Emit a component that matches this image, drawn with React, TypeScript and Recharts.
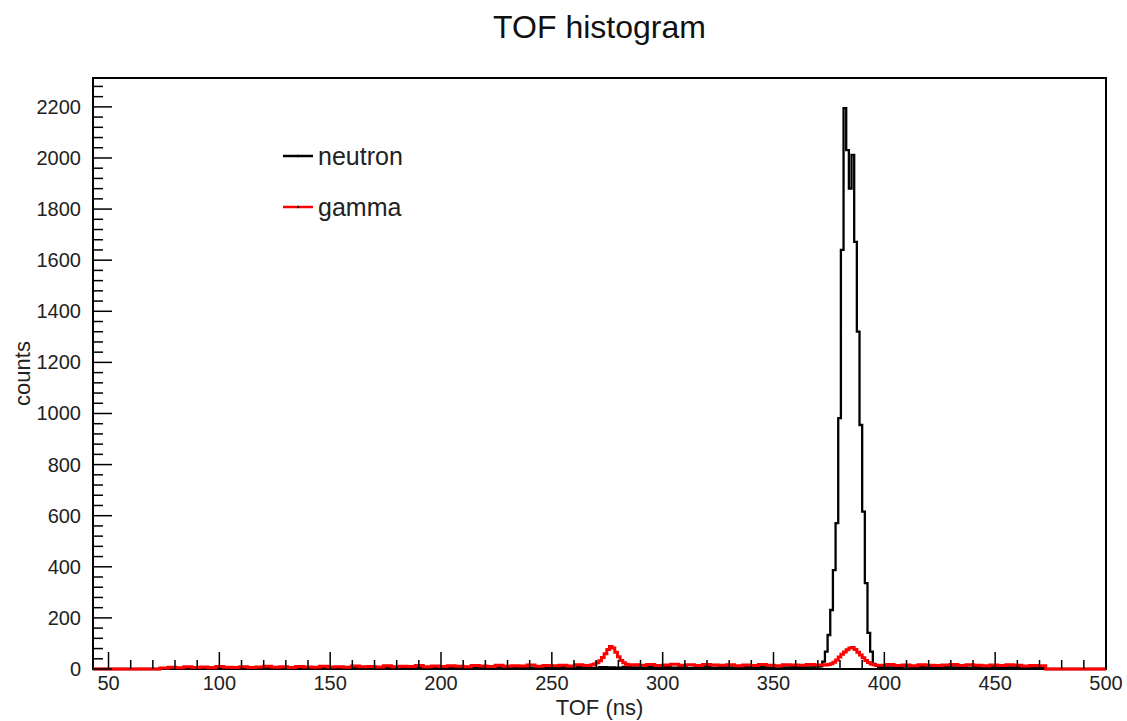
import { ComposedChart, Legend, Line, ReferenceArea, XAxis, YAxis } from "recharts";

// histogram binning: 379 bins of 1.2 ns starting at 44.4 ns
const FIRST_BIN = 44.4;
const BIN_WIDTH = 1.2;
const BIN_COUNT = 379;
const TOF_MIN = 43;
const TOF_MAX = 500;
const COUNTS_MAX = 2313;

// flat background, read in groups of 3 bins, from bin 24 (~73 ns) to ~472 ns
const BG_FIRST = 24;
const BG_GROUP = 3;

const gammaBackground = [
  4, 7, 5, 9, 6, 8, 5, 10, 7, 6,
  9, 6, 8, 11, 7, 9, 6, 10, 8, 7,
  11, 8, 9, 7, 12, 9, 10, 8, 13, 9,
  11, 10, 14, 9, 12, 10, 13, 11, 9, 14,
  12, 10, 15, 11, 13, 12, 16, 11, 14, 13,
  15, 12, 17, 14, 16, 13, 18, 15, 14, 17,
  15, 18, 14, 16, 19, 15, 17, 14, 18, 16,
  15, 17, 13, 16, 14, 18, 15, 13, 17, 16,
  15, 18, 16, 17, 20, 24, 22, 18, 16, 17,
  15, 18, 14, 16, 13, 17, 15, 14, 16, 18,
  14, 17, 15, 13, 16, 14, 17, 15, 12, 14, 13,
];

const neutronBackground = [
  3, 5, 2, 6, 4, 3, 5, 7, 4, 3,
  6, 4, 5, 3, 7, 5, 4, 6, 3, 5,
  4, 7, 5, 3, 6, 4, 8, 5, 4, 6,
  5, 3, 7, 5, 6, 4, 8, 5, 6, 4,
  7, 5, 6, 8, 4, 6, 5, 7, 5, 6,
  8, 5, 7, 6, 4, 7, 6, 5, 8, 6,
  5, 7, 6, 8, 5, 7, 4, 6, 8, 5,
  7, 6, 5, 8, 6, 7, 5, 9, 6, 7,
  8, 6, 9, 7, 8, 10, 9, 8, 7, 9,
  8, 6, 7, 9, 6, 8, 7, 5, 8, 6,
  7, 5, 8, 6, 7, 5, 6, 8, 5, 6, 4,
];

// peaks, bin by bin
const neutronPeakStart = 272;
const neutronPeak = [10, 29, 68, 133, 231, 387, 571, 982, 1640, 2195, 2031, 1880, 2012, 1672, 1320, 955, 616, 336, 141, 68, 20, 12];

const gammaPeak1Start = 186;
const gammaPeak1 = [17, 20, 24, 32, 45, 60, 76, 88, 82, 66, 48, 33, 24, 19, 16];

const gammaPeak2Start = 274;
const gammaPeak2 = [16, 18, 21, 26, 35, 47, 58, 67, 75, 82, 84, 76, 66, 55, 44, 33, 25, 20, 17, 15];

const seriesOrder = ["neutron", "gamma"];
const xLabels = [50, 100, 150, 200, 250, 300, 350, 400, 450, 500];
const yLabels = [0, 200, 400, 600, 800, 1000, 1200, 1400, 1600, 1800, 2000, 2200];

const FONT = "'Liberation Sans', Arial, Helvetica, sans-serif";

function buildCounts(background: number[], peaks: { start: number; counts: number[] }[]) {
  const out: number[] = new Array(BIN_COUNT).fill(0);
  background.forEach((c, g) => {
    for (let k = 0; k < BG_GROUP; k++) out[BG_FIRST + g * BG_GROUP + k] = c;
  });
  peaks.forEach((p) => p.counts.forEach((c, k) => (out[p.start + k] = c)));
  return out;
}

const neutronCounts = buildCounts(neutronBackground, [{ start: neutronPeakStart, counts: neutronPeak }]);
const gammaCounts = buildCounts(gammaBackground, [
  { start: gammaPeak1Start, counts: gammaPeak1 },
  { start: gammaPeak2Start, counts: gammaPeak2 },
]);

const data = [
  { tof: TOF_MIN, neutron: 0, gamma: 0 },
  ...neutronCounts.map((n, i) => ({
    tof: +(FIRST_BIN + i * BIN_WIDTH).toFixed(2),
    neutron: n,
    gamma: gammaCounts[i],
  })),
  { tof: TOF_MAX, neutron: 0, gamma: 0 },
];

// minor ticks: 5 per major step
const xTicks: number[] = [];
for (let v = xLabels[0]; v <= TOF_MAX; v += 10) xTicks.push(v);
const yTicks: number[] = [];
for (let v = 0; v < COUNTS_MAX; v += 40) yTicks.push(v);

const XTick = (props: any) => {
  const { x, y, payload } = props;
  const v = payload.value;
  const major = xLabels.includes(v);
  return (
    <g>
      <line x1={x} x2={x} y1={y} y2={y - (major ? 17 : 9)} stroke="#000" strokeWidth={1.5} />
      {major && (
        <text x={x} y={y + 21} textAnchor="middle" fontSize={20} fill="#222" fontFamily={FONT}>
          {v}
        </text>
      )}
    </g>
  );
};

const YTick = (props: any) => {
  const { x, y, payload } = props;
  const v = payload.value;
  const major = yLabels.includes(v);
  return (
    <g>
      <line x1={x} x2={x + (major ? 19 : 10)} y1={y} y2={y} stroke="#000" strokeWidth={1.5} />
      {major && (
        <text x={x - 12} y={y + 7} textAnchor="end" fontSize={20} fill="#222" fontFamily={FONT}>
          {v}
        </text>
      )}
    </g>
  );
};

const YTitle = (props: any) => {
  const { viewBox } = props;
  const cx = viewBox.x + 9;
  const cy = viewBox.y + viewBox.height / 2;
  return (
    <text x={cx} y={cy} transform={`rotate(-90, ${cx}, ${cy})`} textAnchor="middle" dominantBaseline="central" fontSize={22} fill="#222" fontFamily={FONT}>
      counts
    </text>
  );
};

const XTitle = (props: any) => {
  const { viewBox } = props;
  return (
    <text x={viewBox.x + viewBox.width / 2} y={viewBox.y + 46} textAnchor="middle" fontSize={22} fill="#222" fontFamily={FONT}>
      TOF (ns)
    </text>
  );
};

const renderLegend = (props: any) => {
  const payload = [...(props.payload || [])].sort(
    (a: any, b: any) => seriesOrder.indexOf(a.value) - seriesOrder.indexOf(b.value)
  );
  return (
    <div style={{ display: "flex", flexDirection: "column", gap: 23, fontFamily: FONT }}>
      {payload.map((entry: any) => (
        <div key={entry.value} style={{ display: "flex", alignItems: "center", height: 28 }}>
          <svg width={32} height={10}>
            <line x1={0} x2={30} y1={5} y2={5} stroke={entry.color} strokeWidth={2.5} />
            <circle cx={15} cy={5} r={1.2} fill="#000" />
          </svg>
          <span style={{ fontSize: 25, color: "#222", marginLeft: 3 }}>{entry.value}</span>
        </div>
      ))}
    </div>
  );
};

export default function App() {
  return (
    <div style={{ position: "relative", width: 1127, height: 721, background: "#fff" }}>
      <style>{"html,body{margin:0;padding:0;background:#fff}"}</style>
      <div
        style={{
          position: "absolute",
          left: 0,
          width: 1199,
          top: 9,
          textAlign: "center",
          fontFamily: FONT,
          fontSize: 32,
          color: "#111",
        }}
      >
        TOF histogram
      </div>
      <ComposedChart width={1127} height={721} data={data} margin={{ top: 78, right: 21, bottom: 22, left: 13 }}>
        <ReferenceArea x1={TOF_MIN} x2={TOF_MAX} y1={0} y2={COUNTS_MAX} fill="none" stroke="#000" strokeWidth={2} />
        <XAxis
          dataKey="tof"
          type="number"
          domain={[TOF_MIN, TOF_MAX]}
          ticks={xTicks}
          interval={0}
          tickSize={0}
          tickMargin={0}
          axisLine={false}
          tick={<XTick />}
          height={30}
          label={<XTitle />}
        />
        <YAxis
          type="number"
          domain={[0, COUNTS_MAX]}
          ticks={yTicks}
          interval={0}
          tickSize={0}
          tickMargin={0}
          axisLine={false}
          tick={<YTick />}
          width={80}
          label={<YTitle />}
        />
        <Legend
          layout="vertical"
          align="center"
          verticalAlign="middle"
          content={renderLegend}
          wrapperStyle={{ left: 283, top: 142, width: 200 }}
        />
        <Line
          type="stepAfter"
          dataKey="neutron"
          name="neutron"
          stroke="#000"
          strokeWidth={2.3}
          dot={false}
          activeDot={false}
          isAnimationActive={false}
        />
        <Line
          type="stepAfter"
          dataKey="gamma"
          name="gamma"
          stroke="#ff0000"
          strokeWidth={3}
          dot={false}
          activeDot={false}
          isAnimationActive={false}
        />
      </ComposedChart>
    </div>
  );
}
